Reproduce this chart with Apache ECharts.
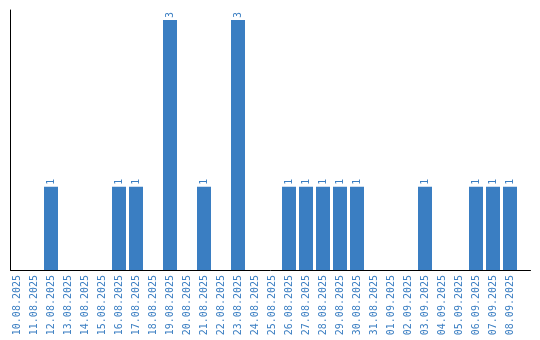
<!DOCTYPE html>
<html><head><meta charset="utf-8">
<script src="https://cdn.jsdelivr.net/npm/echarts@6/dist/echarts.min.js"></script>
<style>html,body{margin:0;padding:0;background:#fff}#c{width:540px;height:340px}</style>
</head><body><div id="c"></div>
<script>
const categories = ["10.08.2025","11.08.2025","12.08.2025","13.08.2025","14.08.2025","15.08.2025","16.08.2025","17.08.2025","18.08.2025","19.08.2025","20.08.2025","21.08.2025","22.08.2025","23.08.2025","24.08.2025","25.08.2025","26.08.2025","27.08.2025","28.08.2025","29.08.2025","30.08.2025","31.08.2025","01.09.2025","02.09.2025","03.09.2025","04.09.2025","05.09.2025","06.09.2025","07.09.2025","08.09.2025"];
const values = [0,0,1,0,0,0,1,1,0,3,0,1,0,3,0,0,1,1,1,1,1,0,0,0,1,0,0,1,1,1];
const blue = '#3a7ec2';
const font = '"DejaVu Sans Mono", monospace';
const chart = echarts.init(document.getElementById('c'), null, {renderer:'canvas'});
chart.setOption({
  animation:false,
  grid:[
    {left:8.5, width:510, top:10, height:260},
    {left:10.5, width:520, top:10, height:260}
  ],
  xAxis:[
    {type:'category', data:categories, gridIndex:0, axisLine:{show:false}, axisTick:{show:false},
     axisLabel:{rotate:90, color:blue, fontFamily:font, fontSize:10, margin:5, interval:0}},
    {type:'value', gridIndex:1, min:0, max:1, axisLine:{show:true, lineStyle:{color:'#000', width:1}},
     axisTick:{show:false}, axisLabel:{show:false}, splitLine:{show:false}}
  ],
  yAxis:[
    {type:'value', gridIndex:0, min:0, max:3.12, show:false, splitLine:{show:false}},
    {type:'value', gridIndex:1, min:0, max:1, axisLine:{show:true, lineStyle:{color:'#000', width:1}},
     axisTick:{show:false}, axisLabel:{show:false}, splitLine:{show:false}}
  ],
  series:[{
    type:'bar', xAxisIndex:0, yAxisIndex:0, barWidth:14,
    data: values.map(v => v === 0 ? null : v),
    itemStyle:{color:blue},
    label:{show:true, position:'top', rotate:90, align:'left', verticalAlign:'middle', distance:2,
      color:blue, fontFamily:font, fontSize:10}
  }]
});
</script></body></html>
